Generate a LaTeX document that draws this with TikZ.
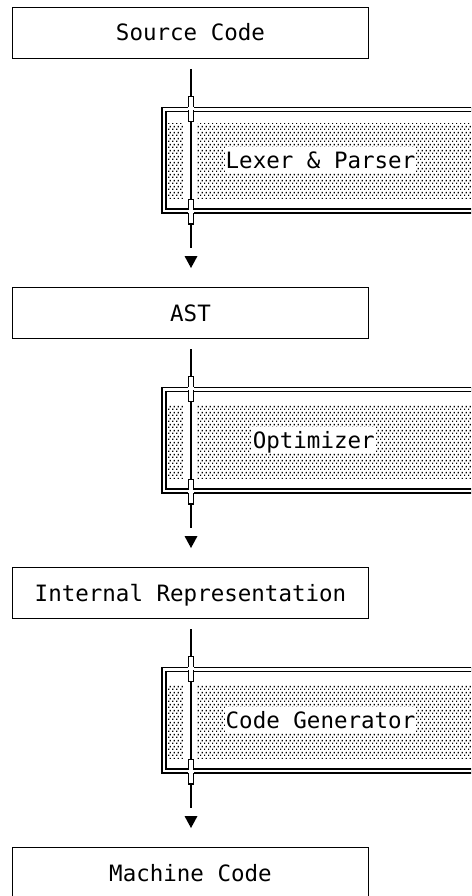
\documentclass[tikz,border=0pt]{standalone}
\usepackage{fontspec}
\setmonofont{DejaVu Sans Mono}
\usetikzlibrary{calc,patterns.meta}
\tikzdeclarepattern{name=shadedots, type=uncolored,
  bounding box={(0pt,0pt) and (4pt,5.6pt)}, tile size={(4pt,5.6pt)},
  code={\fill (0pt,0pt) rectangle (1.5pt,1.5pt); \fill (2pt,2.8pt) rectangle (3.5pt,4.3pt);}}
\newcommand\xcross[1]{%
  \fill ($(#1)+(-3,-13)$) rectangle ($(#1)+(3,13)$);
  \fill[white] ($(#1)+(-1.8,-11.8)$) rectangle ($(#1)+(1.8,11.8)$);
  \fill[white] ($(#1)+(-3.1,-1.4)$) rectangle ($(#1)+(3.1,1.4)$);
}
\begin{document}
\begin{tikzpicture}[x=1pt,y=-1pt,
  every node/.style={font=\fontsize{22.5}{26}\selectfont\ttfamily},
  plainbox/.style={draw, line width=1.8pt, minimum width=356pt, minimum height=51pt,
    inner sep=0pt, text height=16pt, text depth=0pt},
  stagebox/.style={draw, line width=1.3pt, double, double distance=2.7pt,
    minimum width=356pt, minimum height=101.5pt, inner sep=0pt},
  stagetext/.style={fill=white, anchor=west, inner xsep=1pt, inner ysep=5pt,
    text height=16pt, text depth=0pt},
  shade/.style={pattern={shadedots}, pattern color=black},
  flowline/.style={line width=2pt}]
\useasboundingbox (0,0) rectangle (471,896);
\clip (0,0) rectangle (471,896);

% plain boxes
\node[plainbox] (src) at (190.5,33) {Source Code};
\node[plainbox] (ast) at (190.5,313) {AST};
\node[plainbox] (ir)  at (190.5,593) {Internal Representation};
\node[plainbox] (mc)  at (190.5,873) {Machine Code};

% stages
\foreach \dy/\nm/\lab/\lx in {0/lex/{Lexer \& Parser}/224.5, 280/opt/{Optimizer}/251.6, 560/gen/{Code Generator}/224.5}{
  \fill[shade] (168,124+\dy) rectangle (183,198+\dy);
  \fill[shade] (197,124+\dy) rectangle (472,198+\dy);
  \node[stagetext] (\nm txt) at (\lx,160+\dy) {\lab};
  \node[stagebox] (\nm) at (342,160.25+\dy) {};
}

% connectors
\foreach \a/\b/\s in {src/ast/lex, ast/ir/opt, ir/mc/gen}{
  \draw[flowline] ([xshift=.5pt,yshift=-9.6pt]\a.south) -- ([xshift=.5pt,yshift=38.6pt]\b.north) coordinate (\s end);
  \fill ($(\s end)+(-6.5,8)$) -- ($(\s end)+(6.5,8)$) -- ($(\s end)+(0,20)$) -- cycle;
  \coordinate (\s top) at (\s end |- \s.north);
  \coordinate (\s bot) at (\s end |- \s.south);
  \xcross{\s top}
  \xcross{\s bot}
}
\end{tikzpicture}
\end{document}
